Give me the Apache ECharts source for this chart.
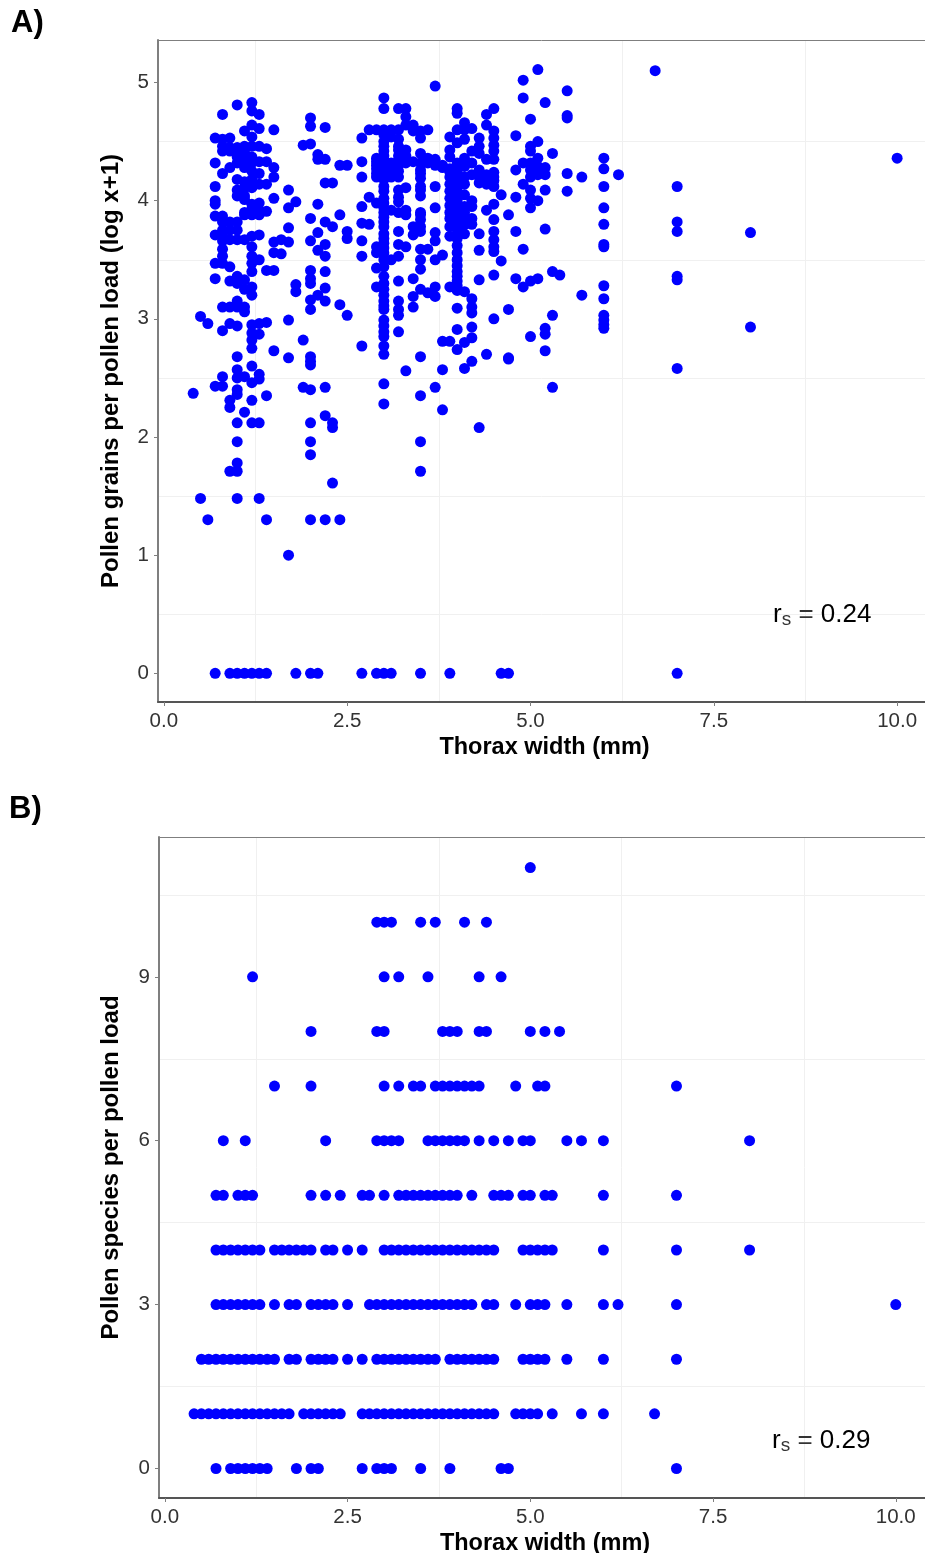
<!DOCTYPE html>
<html>
<head>
<meta charset="utf-8">
<title>Pollen load vs thorax width</title>
<script src="https://cdn.jsdelivr.net/npm/echarts@6/dist/echarts.min.js"></script>
<style>
html, body { margin: 0; padding: 0; background: #fff; }
#chart { width: 925px; height: 1553px; }
</style>
</head>
<body>
<div id="chart"></div>
<script>
// panel A: thorax width column -> log pollen grains
const loadWidths = [0.4, 0.5, 0.6, 0.7, 0.8, 0.9, 1.0, 1.1, 1.2, 1.3, 1.4, 1.5, 1.6, 1.7, 1.8, 1.9, 2.0, 2.1, 2.2, 2.3, 2.4, 2.5, 2.7, 2.8, 2.9, 3.0, 3.1, 3.2, 3.3, 3.4, 3.5, 3.6, 3.7, 3.8, 3.9, 4.0, 4.1, 4.2, 4.3, 4.4, 4.5, 4.6, 4.7, 4.8, 4.9, 5.0, 5.1, 5.2, 5.3, 5.4, 5.5, 5.7, 6.0, 6.2, 6.7, 7.0, 8.0, 10.0];
const loadValues = [
  [2.37],
  [3.02, 1.48],
  [2.96, 1.30],
  [4.53, 4.32, 4.12, 4.0, 3.97, 3.87, 3.71, 3.47, 3.34, 2.43, 0],
  [4.73, 4.52, 4.46, 4.42, 4.23, 3.87, 3.82, 3.75, 3.7, 3.66, 3.59, 3.53, 3.47, 3.1, 2.9, 2.51, 2.43],
  [4.53, 4.45, 4.42, 4.28, 3.82, 3.75, 3.67, 3.44, 3.32, 3.1, 2.96, 2.31, 2.25, 1.71, 0],
  [4.81, 4.45, 4.4, 4.37, 4.32, 4.18, 4.09, 4.04, 3.82, 3.75, 3.67, 3.36, 3.3, 3.15, 3.1, 2.94, 2.68, 2.57, 2.5, 2.4, 2.36, 2.12, 1.96, 1.78, 1.71, 1.48, 0],
  [4.59, 4.46, 4.41, 4.33, 4.28, 4.16, 4.11, 4.04, 4.01, 3.9, 3.88, 3.67, 3.33, 3.25, 3.1, 3.06, 2.51, 2.21, 0],
  [4.83, 4.76, 4.64, 4.54, 4.46, 4.37, 4.32, 4.25, 4.18, 4.11, 3.97, 3.93, 3.9, 3.88, 3.7, 3.61, 3.53, 3.47, 3.4, 3.27, 3.2, 2.95, 2.88, 2.82, 2.75, 2.6, 2.46, 2.31, 2.12, 0],
  [4.73, 4.61, 4.46, 4.33, 4.23, 4.14, 3.98, 3.92, 3.88, 3.71, 3.5, 2.96, 2.87, 2.53, 2.49, 2.12, 1.48, 0],
  [4.44, 4.33, 4.14, 3.91, 3.41, 2.97, 2.35, 1.30, 0],
  [4.6, 4.28, 4.2, 4.02, 3.65, 3.56, 3.41, 2.73],
  [3.67, 3.55],
  [4.09, 3.94, 3.77, 3.65, 2.99, 2.67, 1.0],
  [3.99, 3.29, 3.23, 0],
  [4.47, 2.82, 2.42],
  [4.7, 4.63, 4.48, 3.85, 3.66, 3.41, 3.34, 3.3, 3.16, 3.08, 2.68, 2.64, 2.61, 2.4, 2.12, 1.96, 1.85, 1.30, 0],
  [4.39, 4.35, 3.97, 3.73, 3.58, 3.2, 0],
  [4.62, 4.35, 4.15, 3.82, 3.63, 3.53, 3.4, 3.26, 3.15, 2.42, 2.18, 1.30],
  [4.15, 3.78, 2.12, 2.08, 1.61],
  [4.3, 3.88, 3.12, 1.30],
  [4.3, 3.74, 3.68, 3.03],
  [4.53, 4.33, 4.2, 3.95, 3.81, 3.66, 3.53, 2.77, 0],
  [4.6, 4.03, 3.8],
  [4.6, 4.36, 4.33, 4.3, 4.27, 4.23, 4.2, 3.98, 3.61, 3.56, 3.43, 3.27, 0],
  [4.87, 4.78, 4.6, 4.56, 4.5, 4.46, 4.42, 4.38, 4.34, 4.3, 4.26, 4.22, 4.18, 4.12, 4.08, 4.02, 3.98, 3.94, 3.9, 3.86, 3.82, 3.78, 3.72, 3.68, 3.64, 3.6, 3.56, 3.5, 3.44, 3.36, 3.3, 3.25, 3.2, 3.15, 3.11, 3.08, 2.99, 2.94, 2.89, 2.85, 2.77, 2.7, 2.45, 2.28, 0],
  [4.6, 4.54, 4.32, 4.29, 4.25, 4.2, 3.92, 3.5, 0],
  [4.78, 4.6, 4.52, 4.46, 4.43, 4.38, 4.34, 4.3, 4.25, 4.2, 4.09, 4.03, 3.99, 3.9, 3.74, 3.63, 3.53, 3.32, 3.15, 3.08, 3.03, 2.89],
  [4.78, 4.71, 4.64, 4.43, 4.38, 4.32, 4.11, 3.92, 3.88, 3.61, 2.56],
  [4.64, 4.59, 4.33, 3.78, 3.71, 3.34, 3.19, 3.1],
  [4.59, 4.53, 4.4, 4.32, 4.26, 4.23, 4.19, 4.12, 4.09, 4.04, 3.9, 3.88, 3.84, 3.78, 3.74, 3.59, 3.5, 3.42, 3.25, 2.68, 2.35, 1.96, 1.71, 0],
  [4.6, 4.36, 4.32, 3.59, 3.22],
  [4.97, 4.35, 4.3, 4.12, 3.94, 3.73, 3.66, 3.5, 3.27, 3.19, 2.42],
  [4.3, 4.28, 3.54, 2.81, 2.57, 2.23],
  [4.54, 4.43, 4.37, 4.27, 4.24, 4.2, 4.14, 4.08, 4.02, 3.96, 3.9, 3.85, 3.78, 3.7, 3.27, 2.81, 0],
  [4.78, 4.74, 4.6, 4.49, 4.32, 4.28, 4.24, 4.2, 4.16, 4.12, 4.08, 4.04, 4.0, 3.96, 3.92, 3.88, 3.84, 3.8, 3.76, 3.72, 3.68, 3.62, 3.56, 3.5, 3.45, 3.4, 3.36, 3.32, 3.28, 3.24, 3.09, 2.91, 2.74],
  [4.66, 4.6, 4.52, 4.36, 4.29, 4.2, 4.14, 4.05, 3.95, 3.9, 3.85, 3.8, 3.72, 3.23, 2.8, 2.58],
  [4.61, 4.42, 4.32, 4.22, 4.0, 3.95, 3.85, 3.8, 3.17, 3.1, 3.05, 2.93, 2.84, 2.64],
  [4.53, 4.46, 4.4, 4.26, 4.2, 4.15, 3.72, 3.58, 3.33, 2.08],
  [4.73, 4.64, 4.35, 4.22, 4.2, 4.14, 3.92, 2.7],
  [4.78, 4.59, 4.53, 4.47, 4.42, 4.35, 4.24, 4.2, 4.17, 4.12, 3.97, 3.84, 3.74, 3.67, 3.61, 3.57, 3.37, 3.0],
  [4.05, 3.49, 0],
  [3.88, 3.08, 2.67, 2.66, 0],
  [4.55, 4.26, 4.03, 3.74, 3.34],
  [5.02, 4.87, 4.32, 4.14, 3.59, 3.27],
  [4.69, 4.46, 4.42, 4.32, 4.26, 4.2, 4.09, 4.02, 3.94, 3.32, 2.85],
  [5.11, 4.5, 4.36, 4.29, 4.22, 4.0, 3.34],
  [4.83, 4.28, 4.22, 4.09, 3.76, 2.92, 2.87, 2.73],
  [4.4, 3.4, 3.03, 2.42],
  [3.37],
  [4.93, 4.72, 4.7, 4.23, 4.08],
  [4.2, 3.2],
  [4.36, 4.27, 4.12, 3.94, 3.8, 3.63, 3.61, 3.28, 3.17, 3.03, 2.99, 2.95, 2.92],
  [4.22],
  [5.1],
  [4.12, 3.82, 3.74, 3.36, 3.33, 2.58, 0],
  [3.73, 2.93],
  [4.36]
];

// panel B: species count -> thorax widths sitting on that row
const speciesCounts = [0, 1, 2, 3, 4, 5, 6, 7, 8, 9, 10, 11];
const speciesWidths = [
  [0.7, 0.9, 1.0, 1.1, 1.2, 1.3, 1.4, 1.8, 2.0, 2.1, 2.7, 2.9, 3.0, 3.1, 3.5, 3.9, 4.6, 4.7, 7.0],
  [0.4, 0.5, 0.6, 0.7, 0.8, 0.9, 1.0, 1.1, 1.2, 1.3, 1.4, 1.5, 1.6, 1.7, 1.9, 2.0, 2.1, 2.2, 2.3, 2.4, 2.7, 2.8, 2.9, 3.0, 3.1, 3.2, 3.3, 3.4, 3.5, 3.6, 3.7, 3.8, 3.9, 4.0, 4.1, 4.2, 4.3, 4.4, 4.5, 4.8, 4.9, 5.0, 5.1, 5.3, 5.7, 6.0, 6.7],
  [0.5, 0.6, 0.7, 0.8, 0.9, 1.0, 1.1, 1.2, 1.3, 1.4, 1.5, 1.7, 1.8, 2.0, 2.1, 2.2, 2.3, 2.5, 2.7, 2.9, 3.0, 3.1, 3.2, 3.3, 3.4, 3.5, 3.6, 3.7, 3.9, 4.0, 4.1, 4.2, 4.3, 4.4, 4.5, 4.9, 5.0, 5.1, 5.2, 5.5, 6.0, 7.0],
  [0.7, 0.8, 0.9, 1.0, 1.1, 1.2, 1.3, 1.5, 1.7, 1.8, 2.0, 2.1, 2.2, 2.3, 2.5, 2.8, 2.9, 3.0, 3.1, 3.2, 3.3, 3.4, 3.5, 3.6, 3.7, 3.8, 3.9, 4.0, 4.1, 4.2, 4.4, 4.5, 4.8, 5.0, 5.1, 5.2, 5.5, 6.0, 6.2, 7.0, 10.0],
  [0.7, 0.8, 0.9, 1.0, 1.1, 1.2, 1.3, 1.5, 1.6, 1.7, 1.8, 1.9, 2.0, 2.2, 2.3, 2.5, 2.7, 3.0, 3.1, 3.2, 3.3, 3.4, 3.5, 3.6, 3.7, 3.8, 3.9, 4.0, 4.1, 4.2, 4.3, 4.4, 4.5, 4.9, 5.0, 5.1, 5.2, 5.3, 6.0, 7.0, 8.0],
  [0.7, 0.8, 1.0, 1.1, 1.2, 2.0, 2.2, 2.4, 2.7, 2.8, 3.0, 3.2, 3.3, 3.4, 3.5, 3.6, 3.7, 3.8, 3.9, 4.0, 4.2, 4.5, 4.6, 4.7, 4.9, 5.0, 5.2, 5.3, 6.0, 7.0],
  [0.8, 1.1, 2.2, 2.9, 3.0, 3.1, 3.2, 3.6, 3.7, 3.8, 3.9, 4.0, 4.1, 4.3, 4.5, 4.7, 4.9, 5.0, 5.5, 5.7, 6.0, 8.0],
  [1.5, 2.0, 3.0, 3.2, 3.4, 3.5, 3.7, 3.8, 3.9, 4.0, 4.1, 4.2, 4.3, 4.8, 5.1, 5.2, 7.0],
  [2.0, 2.9, 3.0, 3.8, 3.9, 4.0, 4.3, 4.4, 5.0, 5.2, 5.4],
  [1.2, 3.0, 3.2, 3.6, 4.3, 4.6],
  [2.9, 3.0, 3.1, 3.5, 3.7, 4.1, 4.4],
  [5.0]
];

const widthTicks = [0, 2.5, 5, 7.5, 10];
const widthGrid = [1.25, 3.75, 6.25, 8.75];
const loadTicks = [0, 1, 2, 3, 4, 5];
const loadGrid = [0.5, 1.5, 2.5, 3.5, 4.5];
const speciesTicks = [0, 3, 6, 9];
const speciesGrid = [1.5, 4.5, 7.5, 10.5];

const widthLabel = 'Thorax width (mm)';
const loadLabel = 'Pollen grains per pollen load (log x+1)';
const speciesLabel = 'Pollen species per pollen load';

const loadPoints = [];
loadWidths.forEach((w, i) => {
  loadValues[i].forEach((v) => loadPoints.push([w, v]));
});
const speciesPoints = [];
speciesCounts.forEach((c, i) => {
  speciesWidths[i].forEach((w) => speciesPoints.push([w, c]));
});

const FONT = '"Liberation Sans", Arial, sans-serif';

function mainX(gridIndex, min, max) {
  return {
    type: 'value',
    gridIndex,
    min,
    max,
    position: 'bottom',
    name: widthLabel,
    nameLocation: 'middle',
    nameGap: 34,
    nameTextStyle: { fontFamily: FONT, fontSize: 23.5, fontWeight: 'bold', color: '#000', padding: [0, 0, 0, 6] },
    axisLine: { onZero: false, lineStyle: { color: '#555', width: 2 } },
    axisTick: { customValues: widthTicks, length: 4, lineStyle: { color: '#7f7f7f' } },
    axisLabel: {
      customValues: widthTicks,
      formatter: (v) => v.toFixed(1),
      fontFamily: FONT,
      fontSize: 20.5,
      color: '#333',
      margin: 9,
      hideOverlap: false
    },
    splitLine: { show: false }
  };
}

// top edge of the panel + faint vertical grid
function frameX(gridIndex, min, max) {
  return {
    type: 'value',
    gridIndex,
    min,
    max,
    position: 'top',
    axisLine: { onZero: false, lineStyle: { color: '#7f7f7f', width: 1 } },
    axisTick: { show: false, customValues: widthGrid },
    axisLabel: { show: false },
    splitLine: { show: true, lineStyle: { color: '#f0f0f0', width: 1 } }
  };
}

function mainY(gridIndex, min, max, ticks, name, nameGap) {
  return {
    type: 'value',
    gridIndex,
    min,
    max,
    position: 'left',
    name,
    nameLocation: 'middle',
    nameGap,
    nameTextStyle: { fontFamily: FONT, fontSize: 24, fontWeight: 'bold', color: '#000' },
    axisLine: { onZero: false, lineStyle: { color: '#7f7f7f', width: 2 } },
    axisTick: { customValues: ticks, length: 4, lineStyle: { color: '#7f7f7f' } },
    axisLabel: {
      customValues: ticks,
      fontFamily: FONT,
      fontSize: 20.5,
      color: '#333',
      margin: 9,
      padding: [5, 0, 0, 0]
    },
    splitLine: { show: false }
  };
}

// faint horizontal grid only
function frameY(gridIndex, min, max, ticks) {
  return {
    type: 'value',
    gridIndex,
    min,
    max,
    position: 'right',
    axisLine: { show: false },
    axisTick: { show: false, customValues: ticks },
    axisLabel: { show: false },
    splitLine: { show: true, lineStyle: { color: '#f0f0f0', width: 1 } }
  };
}

function rsNote(left, top, value) {
  return {
    type: 'text',
    left,
    top,
    z: 10,
    style: {
      text: '{r|r}{s|s}{eq| = }{v|' + value + '}',
      rich: {
        r: { fontFamily: FONT, fontSize: 26, fill: '#000' },
        s: { fontFamily: FONT, fontSize: 19, fill: '#333', padding: [10, 0, 0, 0] },
        eq: { fontFamily: FONT, fontSize: 26, fill: '#333' },
        v: { fontFamily: FONT, fontSize: 26, fill: '#000' }
      }
    }
  };
}

const chart = echarts.init(document.getElementById('chart'), null, { renderer: 'canvas' });

chart.setOption({
  animation: false,
  backgroundColor: '#fff',
  grid: [
    { left: 158, top: 40, right: 0, height: 662, outerBoundsMode: 'none' },
    { left: 159, top: 837, right: 0, height: 661, outerBoundsMode: 'none' }
  ],
  xAxis: [
    mainX(0, -0.08, 10.38),
    frameX(0, -0.08, 10.38),
    mainX(1, -0.08, 10.4),
    frameX(1, -0.08, 10.4)
  ],
  yAxis: [
    mainY(0, -0.243, 5.36, loadTicks, loadLabel, 35),
    frameY(0, -0.243, 5.36, loadGrid),
    mainY(1, -0.54, 11.56, speciesTicks, speciesLabel, 36),
    frameY(1, -0.54, 11.56, speciesGrid)
  ],
  series: [
    {
      type: 'scatter',
      xAxisIndex: 0,
      yAxisIndex: 0,
      data: loadPoints,
      symbolSize: 11,
      itemStyle: { color: '#0000ff', opacity: 1 },
      clip: false
    },
    {
      type: 'scatter',
      xAxisIndex: 2,
      yAxisIndex: 2,
      data: speciesPoints,
      symbolSize: 11,
      itemStyle: { color: '#0000ff', opacity: 1 },
      clip: false
    }
  ],
  graphic: [
    { type: 'text', left: 11, top: 8, style: { text: 'A)', fontFamily: FONT, fontSize: 31, fontWeight: 'bold', fill: '#000' } },
    { type: 'text', left: 9, top: 794, style: { text: 'B)', fontFamily: FONT, fontSize: 31, fontWeight: 'bold', fill: '#000' } },
    rsNote(773, 602, '0.24'),
    rsNote(772, 1428, '0.29')
  ]
});
</script>
</body>
</html>
